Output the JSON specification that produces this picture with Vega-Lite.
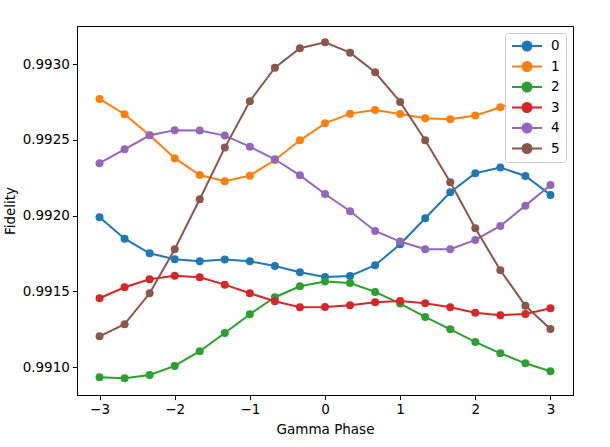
{
  "$schema": "https://vega.github.io/schema/vega-lite/v6.json",
  "width": 496,
  "height": 369,
  "autosize": {"type": "none"},
  "padding": {"left": 77, "top": 26, "right": 37, "bottom": 52},
  "background": "white",
  "data": {
    "values": [
      {"x": -3, "s": "0", "y": 0.99199}, {"x": -2.6667, "s": "0", "y": 0.991848}, {"x": -2.3333, "s": "0", "y": 0.991752},
      {"x": -2, "s": "0", "y": 0.991712}, {"x": -1.6667, "s": "0", "y": 0.991699}, {"x": -1.3333, "s": "0", "y": 0.99171},
      {"x": -1, "s": "0", "y": 0.991699}, {"x": -0.6667, "s": "0", "y": 0.991668}, {"x": -0.3333, "s": "0", "y": 0.991627},
      {"x": 0, "s": "0", "y": 0.991596}, {"x": 0.3333, "s": "0", "y": 0.991602}, {"x": 0.6667, "s": "0", "y": 0.991673},
      {"x": 1, "s": "0", "y": 0.991811}, {"x": 1.3333, "s": "0", "y": 0.991983}, {"x": 1.6667, "s": "0", "y": 0.992154},
      {"x": 2, "s": "0", "y": 0.99228}, {"x": 2.3333, "s": "0", "y": 0.992317}, {"x": 2.6667, "s": "0", "y": 0.992262},
      {"x": 3, "s": "0", "y": 0.992137},

      {"x": -3, "s": "1", "y": 0.99277}, {"x": -2.6667, "s": "1", "y": 0.992669}, {"x": -2.3333, "s": "1", "y": 0.99253},
      {"x": -2, "s": "1", "y": 0.992379}, {"x": -1.6667, "s": "1", "y": 0.992268}, {"x": -1.3333, "s": "1", "y": 0.992227},
      {"x": -1, "s": "1", "y": 0.992264}, {"x": -0.6667, "s": "1", "y": 0.992367}, {"x": -0.3333, "s": "1", "y": 0.992497},
      {"x": 0, "s": "1", "y": 0.992609}, {"x": 0.3333, "s": "1", "y": 0.992673}, {"x": 0.6667, "s": "1", "y": 0.992697},
      {"x": 1, "s": "1", "y": 0.992671}, {"x": 1.3333, "s": "1", "y": 0.992642}, {"x": 1.6667, "s": "1", "y": 0.992636},
      {"x": 2, "s": "1", "y": 0.99266}, {"x": 2.3333, "s": "1", "y": 0.992715}, {"x": 2.6667, "s": "1", "y": 0.992776},
      {"x": 3, "s": "1", "y": 0.992801},

      {"x": -3, "s": "2", "y": 0.990934}, {"x": -2.6667, "s": "2", "y": 0.990927}, {"x": -2.3333, "s": "2", "y": 0.990949},
      {"x": -2, "s": "2", "y": 0.991009}, {"x": -1.6667, "s": "2", "y": 0.991106}, {"x": -1.3333, "s": "2", "y": 0.991226},
      {"x": -1, "s": "2", "y": 0.99135}, {"x": -0.6667, "s": "2", "y": 0.991462}, {"x": -0.3333, "s": "2", "y": 0.991534},
      {"x": 0, "s": "2", "y": 0.991565}, {"x": 0.3333, "s": "2", "y": 0.991556}, {"x": 0.6667, "s": "2", "y": 0.991497},
      {"x": 1, "s": "2", "y": 0.99142}, {"x": 1.3333, "s": "2", "y": 0.991332}, {"x": 1.6667, "s": "2", "y": 0.99125},
      {"x": 2, "s": "2", "y": 0.991167}, {"x": 2.3333, "s": "2", "y": 0.991092}, {"x": 2.6667, "s": "2", "y": 0.991026},
      {"x": 3, "s": "2", "y": 0.990974},

      {"x": -3, "s": "3", "y": 0.991455}, {"x": -2.6667, "s": "3", "y": 0.991528}, {"x": -2.3333, "s": "3", "y": 0.991581},
      {"x": -2, "s": "3", "y": 0.991604}, {"x": -1.6667, "s": "3", "y": 0.991594}, {"x": -1.3333, "s": "3", "y": 0.991545},
      {"x": -1, "s": "3", "y": 0.991488}, {"x": -0.6667, "s": "3", "y": 0.991435}, {"x": -0.3333, "s": "3", "y": 0.991396},
      {"x": 0, "s": "3", "y": 0.991398}, {"x": 0.3333, "s": "3", "y": 0.991409}, {"x": 0.6667, "s": "3", "y": 0.991429},
      {"x": 1, "s": "3", "y": 0.991437}, {"x": 1.3333, "s": "3", "y": 0.991422}, {"x": 1.6667, "s": "3", "y": 0.991396},
      {"x": 2, "s": "3", "y": 0.99136}, {"x": 2.3333, "s": "3", "y": 0.991343}, {"x": 2.6667, "s": "3", "y": 0.991352},
      {"x": 3, "s": "3", "y": 0.991389},

      {"x": -3, "s": "4", "y": 0.992346}, {"x": -2.6667, "s": "4", "y": 0.992438}, {"x": -2.3333, "s": "4", "y": 0.99253},
      {"x": -2, "s": "4", "y": 0.992563}, {"x": -1.6667, "s": "4", "y": 0.992561}, {"x": -1.3333, "s": "4", "y": 0.992528},
      {"x": -1, "s": "4", "y": 0.992455}, {"x": -0.6667, "s": "4", "y": 0.992372}, {"x": -0.3333, "s": "4", "y": 0.992266},
      {"x": 0, "s": "4", "y": 0.992143}, {"x": 0.3333, "s": "4", "y": 0.992029}, {"x": 0.6667, "s": "4", "y": 0.991899},
      {"x": 1, "s": "4", "y": 0.991829}, {"x": 1.3333, "s": "4", "y": 0.991778}, {"x": 1.6667, "s": "4", "y": 0.991778},
      {"x": 2, "s": "4", "y": 0.99184}, {"x": 2.3333, "s": "4", "y": 0.991932}, {"x": 2.6667, "s": "4", "y": 0.992066},
      {"x": 3, "s": "4", "y": 0.992202},

      {"x": -3, "s": "5", "y": 0.991204}, {"x": -2.6667, "s": "5", "y": 0.991284}, {"x": -2.3333, "s": "5", "y": 0.991488},
      {"x": -2, "s": "5", "y": 0.991778}, {"x": -1.6667, "s": "5", "y": 0.992108}, {"x": -1.3333, "s": "5", "y": 0.992449},
      {"x": -1, "s": "5", "y": 0.992755}, {"x": -0.6667, "s": "5", "y": 0.992976}, {"x": -0.3333, "s": "5", "y": 0.993104},
      {"x": 0, "s": "5", "y": 0.993144}, {"x": 0.3333, "s": "5", "y": 0.993075}, {"x": 0.6667, "s": "5", "y": 0.992946},
      {"x": 1, "s": "5", "y": 0.99275}, {"x": 1.3333, "s": "5", "y": 0.992497}, {"x": 1.6667, "s": "5", "y": 0.99222},
      {"x": 2, "s": "5", "y": 0.991917}, {"x": 2.3333, "s": "5", "y": 0.99164}, {"x": 2.6667, "s": "5", "y": 0.991405},
      {"x": 3, "s": "5", "y": 0.991253}
    ]
  },
  "mark": {
    "type": "line",
    "strokeWidth": 2,
    "point": {"filled": true, "size": 64, "opacity": 1}
  },
  "encoding": {
    "x": {
      "field": "x",
      "type": "quantitative",
      "title": "Gamma Phase",
      "scale": {"domain": [-3.3, 3.3], "nice": false, "zero": false},
      "axis": {"values": [-3, -2, -1, 0, 1, 2, 3], "format": "d"}
    },
    "y": {
      "field": "y",
      "type": "quantitative",
      "title": "Fidelity",
      "scale": {"domain": [0.990817, 0.993251], "nice": false, "zero": false},
      "axis": {"values": [0.991, 0.9915, 0.992, 0.9925, 0.993], "format": ".4f", "titlePadding": 5}
    },
    "color": {
      "field": "s",
      "type": "nominal",
      "scale": {
        "domain": ["0", "1", "2", "3", "4", "5"],
        "range": ["#1f77b4", "#ff7f0e", "#2ca02c", "#d62728", "#9467bd", "#8c564b"]
      },
      "legend": {
        "title": null,
        "orient": "top-right",
        "offset": 7,
        "padding": 6,
        "fillColor": "white",
        "strokeColor": "#cccccc",
        "cornerRadius": 3,
        "symbolType": "M -1 0 L 1 0 M -0.3 0 A 0.3 0.3 0 1 0 0.3 0 A 0.3 0.3 0 1 0 -0.3 0 Z",
        "symbolSize": 900,
        "symbolStrokeWidth": 2,
        "symbolOpacity": 1,
        "clipHeight": 14,
        "labelFontSize": 13.5,
        "labelFont": "DejaVu Sans",
        "labelColor": "black",
        "rowPadding": 6.5,
        "labelOffset": 8,
        "encode": {
          "symbols": {
            "update": {
              "fill": {"scale": "color", "field": "value"},
              "stroke": {"scale": "color", "field": "value"},
              "fillOpacity": {"value": 1}
            }
          }
        }
      }
    }
  },
  "config": {
    "view": {"stroke": "black", "strokeWidth": 1},
    "axis": {
      "grid": false,
      "domainColor": "black",
      "domainWidth": 1,
      "tickColor": "black",
      "tickSize": 4.6,
      "tickWidth": 1,
      "labelFont": "DejaVu Sans",
      "labelFontSize": 13.5,
      "labelColor": "black",
      "labelPadding": 3,
      "titleFont": "DejaVu Sans",
      "titleFontSize": 13.5,
      "titleFontWeight": "normal",
      "titleColor": "black"
    },
    "axisX": {"titlePadding": 6}
  }
}
